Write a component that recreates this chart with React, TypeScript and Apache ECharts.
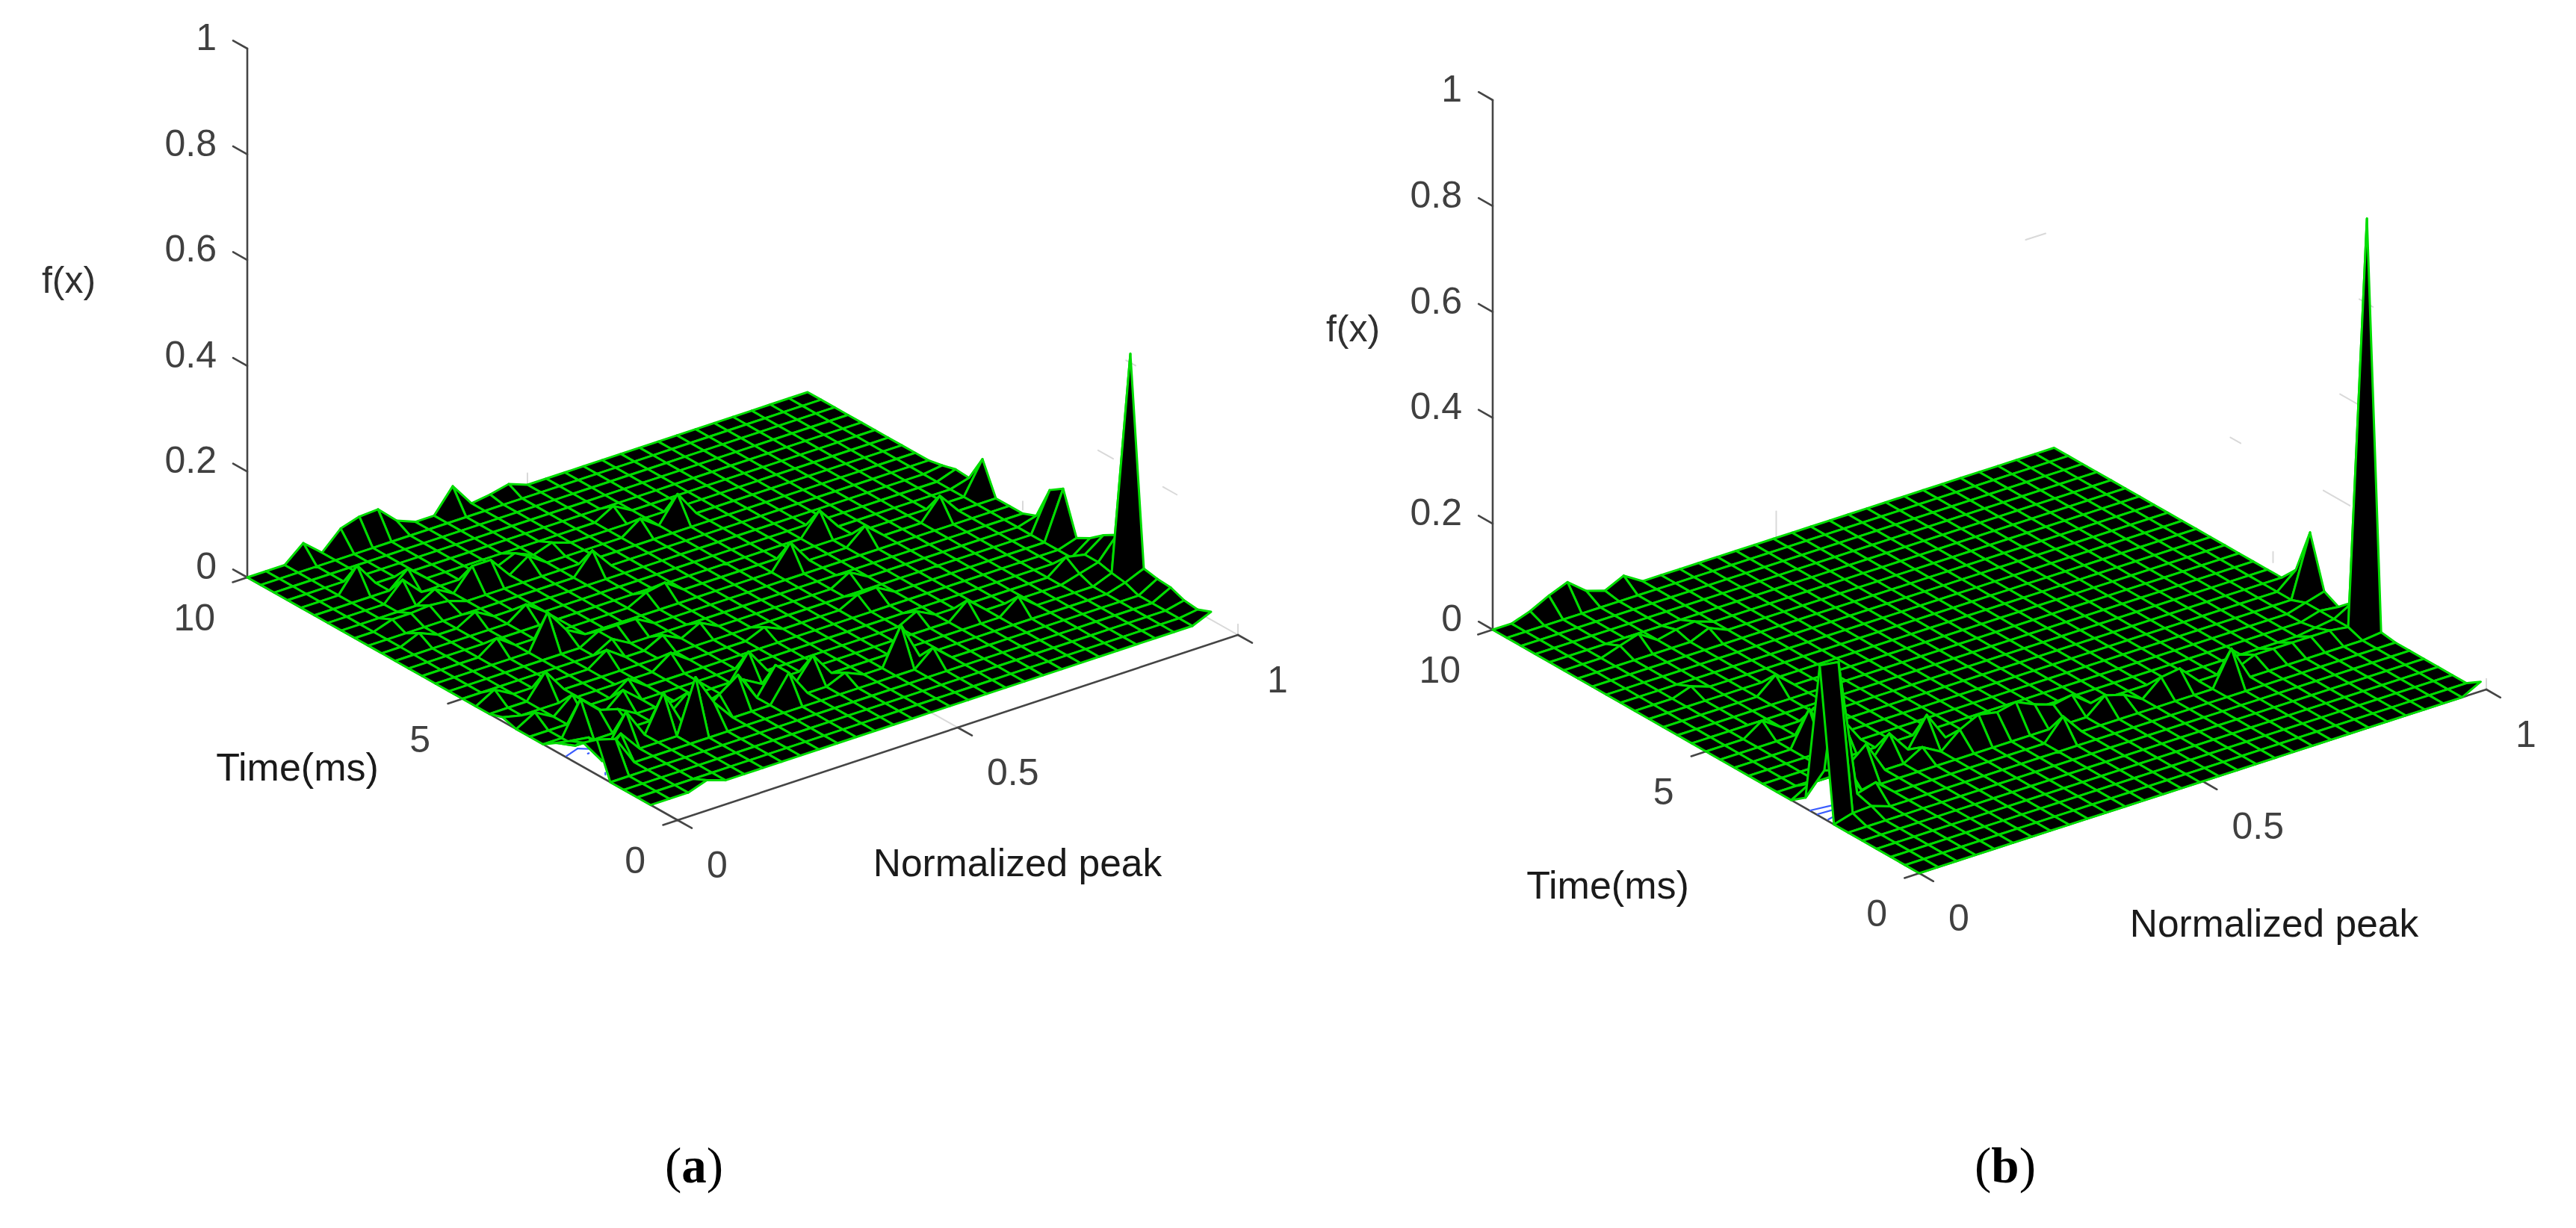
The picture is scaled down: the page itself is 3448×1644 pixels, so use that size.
import React, { useEffect, useRef } from "react";
import * as echarts from "echarts";

// ---- axis ticks and labels ----
const zTicks = [0, 0.2, 0.4, 0.6, 0.8, 1];
const zTickLabels = ["0", "0.2", "0.4", "0.6", "0.8", "1"];
const timeTicks = [0, 5, 10];
const timeTickLabels = ["0", "5", "10"];
const peakTicks = [0, 0.5, 1];
const peakTickLabels = ["0", "0.5", "1"];
const zTitle = "f(x)";
const timeTitle = "Time(ms)";
const peakTitle = "Normalized peak";

// ---- surface: 31 x 31 nodes; every node not listed is 0 ----
// entries are [peak index, time index, f(x)]
const nonZeroNodesA: number[][] = [
  [3,30,.03],[5,30,.034],[6,30,.045],[7,30,.047],[8,30,.014],[11,30,.044],[13,30,.005],[14,30,.013],
  [30,0,.015],[30,1,.005],[30,2,.008],[30,3,.018],[30,4,.02],[30,5,.025],[30,6,.417],[30,7,.06],[30,8,.045],
  [30,9,.025],[30,10,.011],[30,11,.09],[30,12,.073],[30,13,.01],[30,17,.06],[30,18,.01],[30,19,.012],[30,20,.005],
  [29,5,.01],[29,6,.014],[29,7,.02],[29,8,.02],[28,7,.01],
  [3,0,.012],[0,4,.066],[0,5,.046],[0,6,.035],[0,7,.017],[0,11,.008],[1,4,.056],
  [3,26,.045],[5,25,.03],[4,24,.035],[7,23,.04],[5,23,.02],[2,22,.012],[2,20,.015],[6,16,.065],[4,17,.025],
  [7,19,.025],[3,12,.045],[2,8,.062],[3,6,.055],[16,25,.02],[12,21,.04],[10,23,.024],[8,23,.04],[5,20,.02],
  [18,23,.048],[16,23,.025],[19,16,.045],[22,18,.042],[23,16,.03],[27,16,.04],[13,17,.025],[20,13,.02],[20,11,.02],
  [22,7,.03],[17,5,.07],[18,4,.03],[11,8,.047],[11,6,.05],[9,6,.055],[6,5,.1],[5,6,.068],[11,5,.05],[13,6,.045],
  [24,6,.028],[28,8,.027],[1,6,.03],[2,5,.04],[3,8,.03],[3,10,.03],[1,10,.02],[7,5,.04],[7,7,.03],[4,8,.02],
  [5,9,.03],[8,6,.03],[10,7,.02],[14,5,.015],
  [3,22,.012],[5,22,.012],[4,22,.015],[12,24,.012],[10,24,.015],[7,13,.025],[7,16,.02],[8,15,.02],[8,14,.02],
  [6,10,.025],[1,13,.02],[10,15,.02],[10,13,.018],[9,11,.025],[12,13,.018],[14,11,.015],[19,11,.018],[20,8,.018],
  [12,17,.018],[9,15,.02],
];
const nonZeroNodesB: number[][] = [
  [2,30,.012],[3,30,.03],[4,30,.044],[5,30,.016],[6,30,.005],[7,30,.022],
  [30,0,.018],[30,7,.004],[30,8,.77],[30,9,.03],[30,10,.006],[30,11,.02],[30,12,.116],[30,13,.03],
  [29,8,.01],[29,9,.01],[28,9,.005],[29,10,.01],[29,11,.01],
  [4,25,.023],[3,25,.012],[6,25,.008],[7,25,.012],[7,24,.015],[3,20,.012],[3,15,.024],[5,14,.04],[4,13,.065],[6,18,.03],
  [0,7,.285],[1,7,.28],[0,8,.02],[1,8,.06],[2,8,.05],[2,7,.02],[1,6,.01],[2,6,.012],[3,7,.03],[1,9,.02],[2,9,.02],
  [4,9,.06],[3,9,.03],[5,12,.05],
  [6,10,.042],[8,10,.054],[10,9,.047],[11,9,.04],[12,9,.048],[13,9,.032],[13,10,.017],[13,7,.04],[15,9,.027],[16,8,.03],
  [17,8,.02],[19,8,.03],[22,7,.065],[20,8,.035],[7,9,.02],[9,9,.03],[14,9,.02],
  [24,8,.015],[25,8,.015],[26,8,.015],[27,8,.015],[28,8,.015],
];

// small blue traces seen through the gap under the surface: [peak, time] pairs
const blueTraceA: number[][][] = [
  [[.0029,2.62],[.0304,2.72],[.0516,2.53]],
  [[.0317,2.5],[.0337,2.5]],
  [[.0094,1.8],[.013,1.85]],
];
const blueTraceB: number[][][] = [
  [[.001,2.57],[.041,2.51]],
  [[.002,2.41],[.0325,2.39]],
  [[.0035,2.18],[.019,2.22]],
];

// pale back-box tick marks: [p, t, z, p, t, z]
const paleTicksA: number[][] = [
  [1,3.25,.2,1,2.9,.2],[1,1.74,.2,1,1.42,.2],[1,2.6,.4,1,2.38,.4],[.5,10,0,.5,10,.022],[1,5,.007,1,5,.023],
  [1,0,0,1,.75,0],[.5,0,0,.5,.66,0],[1,0,0,1,0,.02],
];
const paleTicksB: number[][] = [
  [1,3.82,.2,1,3.2,.2],[1,6,.2,1,5.76,.2],[1,3.43,.4,1,2.98,.4],[1,2.98,.6,1,2.66,.6],[.94,10,.41,.975,10,.41],
  [.5,10,0,.5,10,.05],[1,5,.01,1,5,.03],[1,0,0,1,0,.02],
];

// ---- layout (pixels of the 3448 x 1644 page) ----
const WIDTH = 3448;
const HEIGHT = 1644;
const CELLS = 30;
const INK = "#454545";
const GREEN = "#00dc00";
const PALE = "#d9d9d9";
const SANS = '"Liberation Sans", Arial, sans-serif';
const SERIF = '"Liberation Serif", serif';

type Panel = {
  ox: number; oy: number; px: number; py: number; tx: number; ty: number; zs: number;
  tMin: number; pMax: number; nodes: number[][]; blue: number[][][]; pale: number[][];
  zTitleAt: number[]; timeTitleAt: number[]; peakTitleAt: number[]; caption: string; captionAt: number[];
};

const panelA: Panel = {
  ox: 907, oy: 1098, px: 750, py: -248, tx: -57.6, ty: -32.5, zs: 708, tMin: 0.625, pMax: 1,
  nodes: nonZeroNodesA, blue: blueTraceA, pale: paleTicksA,
  zTitleAt: [92, 375], timeTitleAt: [398, 1027], peakTitleAt: [1362, 1155], caption: "a", captionAt: [929, 1560],
};
const panelB: Panel = {
  ox: 2569, oy: 1169, px: 759, py: -246, tx: -57.1, ty: -32.6, zs: 709, tMin: 0, pMax: 0.99,
  nodes: nonZeroNodesB, blue: blueTraceB, pale: paleTicksB,
  zTitleAt: [1811, 440], timeTitleAt: [2152, 1185], peakTitleAt: [3044, 1236], caption: "b", captionAt: [2684, 1560],
};

const project = (m: Panel, p: number, t: number, z: number): number[] => [
  m.ox + p * m.px + t * m.tx,
  m.oy + p * m.py + t * m.ty - z * m.zs,
];

function buildMatrix(nodes: number[][]): number[][] {
  const rows: number[][] = [];
  for (let j = 0; j <= CELLS; j++) rows.push(new Array(CELLS + 1).fill(0));
  nodes.forEach(([i, j, z]) => { rows[j][i] = z; });
  return rows;
}

function surfaceSeries(m: Panel) {
  const zm = buildMatrix(m.nodes);
  const node = (i: number, j: number) =>
    project(m, (i / CELLS) * m.pMax, m.tMin + (j / CELLS) * (10 - m.tMin), zm[j][i]);
  const items: number[][] = [];
  for (let j = CELLS - 1; j >= 0; j--) for (let i = CELLS - 1; i >= 0; i--) items.push([i, j]);
  return {
    type: "custom",
    coordinateSystem: "cartesian2d",
    silent: true,
    clip: false,
    progressive: 0,
    data: items,
    encode: { x: 0, y: 1 },
    renderItem: (_: any, api: any) => {
      const i = api.value(0);
      const j = api.value(1);
      const pts = [node(i, j), node(i + 1, j), node(i + 1, j + 1), node(i, j + 1)].map((q) => api.coord(q));
      return {
        type: "polygon",
        shape: { points: pts },
        style: { fill: "#000000", stroke: GREEN, lineWidth: 3, lineJoin: "round" },
      };
    },
  };
}

function segmentSeries(m: Panel, segments: number[][], color: string, width: number) {
  return {
    type: "custom",
    coordinateSystem: "cartesian2d",
    silent: true,
    clip: false,
    progressive: 0,
    data: segments,
    encode: { x: 0, y: 1 },
    renderItem: (_: any, api: any) => {
      const a = api.coord(project(m, api.value(0), api.value(1), api.value(2)));
      const b = api.coord(project(m, api.value(3), api.value(4), api.value(5)));
      return {
        type: "line",
        shape: { x1: a[0], y1: a[1], x2: b[0], y2: b[1] },
        style: { stroke: color, lineWidth: width, lineCap: "round" },
      };
    },
  };
}

function axisSegments(): number[][] {
  const s: number[][] = [
    [0, 10, 0, 0, 10, 1],
    [0, 0, 0, 0, 10, 0],
    [0, 0, 0, 1, 0, 0],
  ];
  timeTicks.forEach((t) => s.push([0, t, 0, -0.026, t, 0]));
  peakTicks.forEach((p) => s.push([p, 0, 0, p, -0.33, 0]));
  zTicks.forEach((z) => s.push([0, 10, z, 0, 10.33, z]));
  return s;
}

function blueSegments(m: Panel): number[][] {
  const s: number[][] = [];
  m.blue.forEach((line) => {
    for (let k = 0; k + 1 < line.length; k++) s.push([line[k][0], line[k][1], 0, line[k + 1][0], line[k + 1][1], 0]);
  });
  return s;
}

function text(t: string, x: number, y: number, size: number, color: string, align: string) {
  return {
    type: "text",
    silent: true,
    style: {
      text: t, x, y, fill: color, font: `${size}px ${SANS}`, align, verticalAlign: "middle",
    },
  };
}

function labels(m: Panel): any[] {
  const out: any[] = [];
  zTicks.forEach((z, k) => {
    const q = project(m, 0, 10, z);
    out.push(text(zTickLabels[k], q[0] - 41, q[1] - 15, 50, "#404040", "right"));
  });
  timeTicks.forEach((t, k) => {
    const q = project(m, 0, t, 0);
    out.push(text(timeTickLabels[k], q[0] - 43, q[1] + 54, 50, "#404040", "right"));
  });
  peakTicks.forEach((p, k) => {
    const q = project(m, p, 0, 0);
    out.push(text(peakTickLabels[k], q[0] + 39, q[1] + 60, 50, "#404040", "left"));
  });
  out.push(text(zTitle, m.zTitleAt[0], m.zTitleAt[1], 50, "#303030", "center"));
  out.push(text(timeTitle, m.timeTitleAt[0], m.timeTitleAt[1], 52, "#1a1a1a", "center"));
  out.push(text(peakTitle, m.peakTitleAt[0], m.peakTitleAt[1], 51.5, "#1a1a1a", "center"));
  out.push({
    type: "text",
    silent: true,
    style: {
      text: `{n|(}{b|${m.caption}}{n|)}`,
      x: m.captionAt[0],
      y: m.captionAt[1],
      align: "center",
      verticalAlign: "middle",
      rich: {
        n: { font: `67px ${SERIF}`, fill: "#000000" },
        b: { font: `bold 67px ${SERIF}`, fill: "#000000" },
      },
    },
  });
  return out;
}

function panelSeries(m: Panel): any[] {
  return [
    segmentSeries(m, m.pale, PALE, 2),
    segmentSeries(m, axisSegments(), INK, 2.6),
    segmentSeries(m, blueSegments(m), "#3a5cff", 2.2),
    surfaceSeries(m),
  ];
}

export default function App() {
  const ref = useRef<HTMLDivElement>(null);
  useEffect(() => {
    if (!ref.current) return;
    const chart = echarts.init(ref.current, undefined, { renderer: "svg" });
    chart.setOption({
      animation: false,
      backgroundColor: "#ffffff",
      grid: { left: 0, right: 0, top: 0, bottom: 0 },
      xAxis: { type: "value", min: 0, max: WIDTH, show: false },
      yAxis: { type: "value", min: 0, max: HEIGHT, inverse: true, show: false },
      series: [...panelSeries(panelA), ...panelSeries(panelB)],
      graphic: { elements: [...labels(panelA), ...labels(panelB)] },
    });
    return () => chart.dispose();
  }, []);
  return (
    <div
      ref={ref}
      style={{ position: "absolute", left: 0, top: 0, width: WIDTH, height: HEIGHT }}
    />
  );
}
